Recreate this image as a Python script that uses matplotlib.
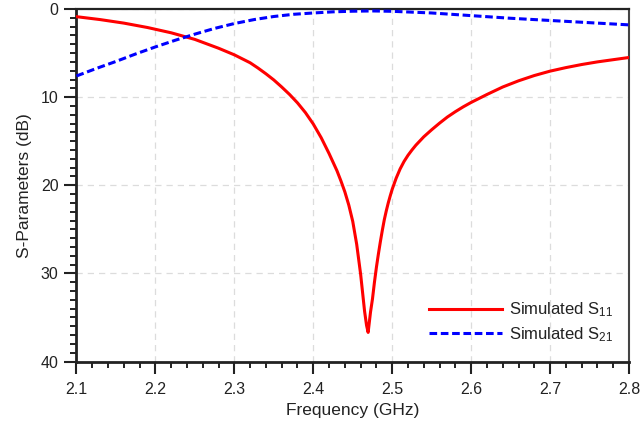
import matplotlib
matplotlib.use("Agg")
import matplotlib.pyplot as plt
from matplotlib.ticker import MultipleLocator

plt.rcParams["font.family"] = ["Liberation Sans", "DejaVu Sans"]
plt.rcParams["mathtext.fontset"] = "custom"
plt.rcParams["mathtext.rm"] = "Liberation Sans"
plt.rcParams["mathtext.default"] = "regular"

TEXT = "#222222"

# Simulated S11 (dB, magnitude)
freq_s11 = [2.10, 2.13, 2.16, 2.19, 2.22, 2.25, 2.28, 2.30, 2.32, 2.33,
            2.34, 2.35, 2.36, 2.37, 2.38, 2.39, 2.40, 2.41, 2.42, 2.43,
            2.435, 2.44, 2.445, 2.45, 2.455, 2.46, 2.4625, 2.465, 2.4675, 2.4695,
            2.4725, 2.475, 2.4775, 2.48, 2.4825, 2.485, 2.4875, 2.49, 2.4925, 2.495,
            2.4975, 2.50, 2.505, 2.51, 2.515, 2.52, 2.525, 2.53, 2.54, 2.55,
            2.56, 2.57, 2.58, 2.59, 2.60, 2.62, 2.64, 2.66, 2.68, 2.70,
            2.72, 2.74, 2.76, 2.78, 2.80]
s11 = [0.87, 1.2, 1.6, 2.1, 2.7, 3.45, 4.45, 5.2, 6.1, 6.7,
       7.35, 8.05, 8.85, 9.7, 10.65, 11.75, 13.05, 14.6, 16.4, 18.35,
       19.5, 20.75, 22.25, 24.1, 26.7, 30.1, 32.2, 34.3, 35.9, 36.7,
       34.4, 32.9, 31.0, 29.3, 27.8, 26.4, 25.1, 23.9, 22.9, 22.0,
       21.2, 20.45, 19.2, 18.15, 17.3, 16.6, 16.0, 15.45, 14.5, 13.7,
       12.95, 12.25, 11.65, 11.1, 10.6, 9.7, 8.85, 8.15, 7.55, 7.05,
       6.65, 6.3, 6.0, 5.75, 5.5]

# Simulated S21 (dB, magnitude)
freq_s21 = [2.10, 2.125, 2.15, 2.175, 2.20, 2.225, 2.25, 2.275, 2.30, 2.325,
            2.35, 2.375, 2.40, 2.425, 2.45, 2.475, 2.50, 2.55, 2.60, 2.65,
            2.70, 2.75, 2.80]
s21 = [7.6, 6.75, 5.95, 5.1, 4.3, 3.55, 2.85, 2.2, 1.65, 1.2,
       0.85, 0.6, 0.45, 0.32, 0.25, 0.22, 0.26, 0.45, 0.75, 1.05,
       1.3, 1.55, 1.8]

x_ticks = [2.1, 2.2, 2.3, 2.4, 2.5, 2.6, 2.7, 2.8]
y_ticks = [0, 10, 20, 30, 40]

fig = plt.figure(figsize=(6.41, 4.25), dpi=100)
ax = fig.add_axes([0.1193, 0.1494, 0.862, 0.8294])

ax.plot(freq_s11, s11, color="#ff0000", lw=2.2, label="Simulated S$_{11}$", zorder=3)
ax.plot(freq_s21, s21, color="#0000ff", lw=2.2, dashes=(2.5, 1.2),
        label="Simulated S$_{21}$", zorder=3)

ax.set_xlim(2.1, 2.8)
ax.set_ylim(40, 0)
ax.set_xticks(x_ticks)
ax.set_xticklabels([f"{v:.1f}" for v in x_ticks])
ax.set_yticks(y_ticks)
ax.xaxis.set_minor_locator(MultipleLocator(0.02))
ax.yaxis.set_minor_locator(MultipleLocator(1))

ax.grid(True, which="major", color="#dcdcdc", lw=0.9, ls=(0, (5, 4)), zorder=0)

ax.tick_params(axis="x", which="major", pad=6.5)
ax.tick_params(axis="y", which="major", pad=4.5)
ax.tick_params(axis="both", which="major", direction="out", length=8.5, width=1.5,
               color="#222222", labelsize=11.5, labelcolor=TEXT)
ax.tick_params(axis="both", which="minor", direction="out", length=4.5, width=1.4,
               color="#222222")
ax.tick_params(top=False, right=False, which="both")

for side in ("left", "bottom"):
    ax.spines[side].set_linewidth(2.0)
    ax.spines[side].set_color("#222222")
ax.spines["top"].set_linewidth(1.6)
ax.spines["top"].set_color("#222222")
ax.spines["right"].set_linewidth(1.5)
ax.spines["right"].set_color("#444444")

ax.set_xlabel("Frequency (GHz)", fontsize=12.5, color=TEXT, labelpad=4)
ax.set_ylabel("S-Parameters (dB)", fontsize=12.5, color=TEXT, labelpad=6)

ax.legend(loc="lower right", bbox_to_anchor=(0.972, 0.05), frameon=False,
          fontsize=12, handlelength=4.4, handletextpad=0.45, labelspacing=0.35,
          borderpad=0, borderaxespad=0, labelcolor=TEXT)

fig.savefig("out.png", dpi=100)
